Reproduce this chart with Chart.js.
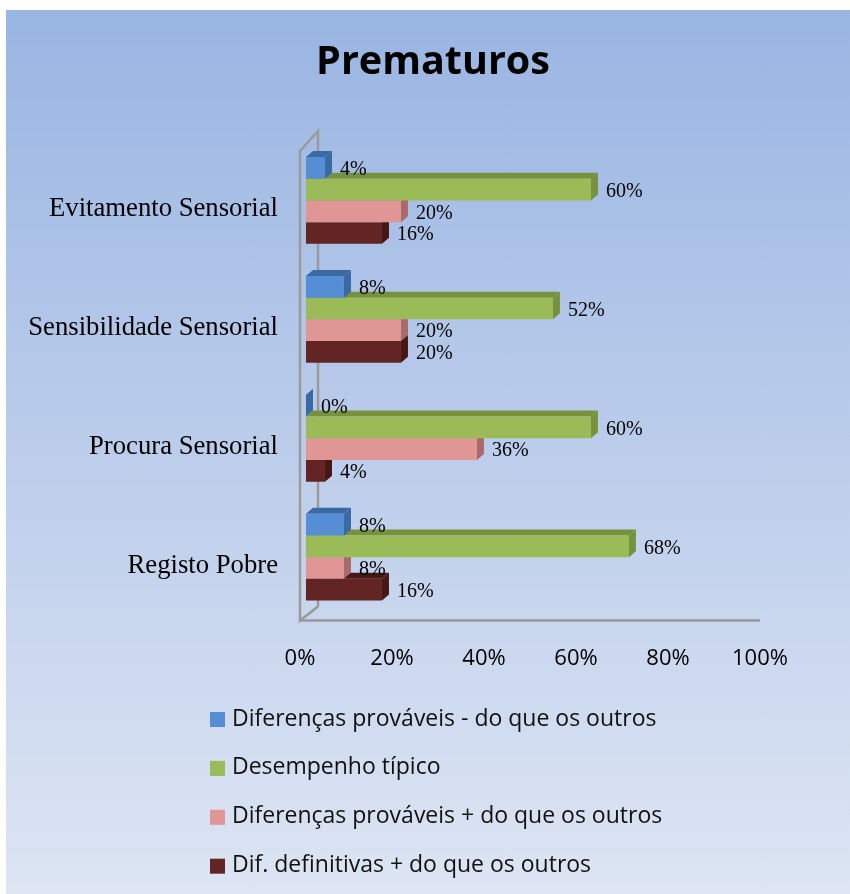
<!DOCTYPE html>
<html lang="pt">
<head>
  <meta charset="UTF-8">
  <title>Prematuros</title>
  <script src="https://cdn.jsdelivr.net/npm/chart.js"></script>
  <style>
    body { margin: 0; background: #fff; }
    #box { position: absolute; left: 6px; top: 10px; width: 844px; height: 884px;
           background: linear-gradient(to bottom, #99b5e2 0%, #bccdeb 50%, #dde5f3 100%); }
  </style>
</head>
<body>
<div id="box"><canvas id="chart" width="844" height="884"></canvas></div>

<script>
const categories = ['Evitamento Sensorial', 'Sensibilidade Sensorial', 'Procura Sensorial', 'Registo Pobre'];
const seriesNames = [
  'Diferenças prováveis - do que os outros',
  'Desempenho típico',
  'Diferenças prováveis + do que os outros',
  'Dif. definitivas + do que os outros'
];
const provMenos = [4, 8, 0, 8];
const tipico = [60, 52, 60, 68];
const provMais = [20, 20, 36, 8];
const definitivas = [16, 20, 4, 16];
const tickValues = [0, 20, 40, 60, 80, 100];

const fronts = ['#558ed5', '#9bbb59', '#df9695', '#632523'];
const sides = ['#3b6aa2', '#76923c', '#a96a6a', '#461715'];

const DX = 7, DY = 6;

// fake 3D faces behind each bar (drawn before the bar itself)
const bars3d = {
  id: 'bars3d',
  beforeDatasetDraw(chart, args) {
    const ctx = chart.ctx;
    ctx.save();
    ctx.fillStyle = sides[args.index];
    args.meta.data.forEach(el => {
      const x0 = el.base, x1 = el.x, t = el.y - el.height / 2, b = el.y + el.height / 2;
      ctx.beginPath();
      ctx.moveTo(x0, t); ctx.lineTo(x0 + DX, t - DY); ctx.lineTo(x1 + DX, t - DY); ctx.lineTo(x1, t);
      ctx.closePath(); ctx.fill();
      ctx.beginPath();
      ctx.moveTo(x1, t); ctx.lineTo(x1 + DX, t - DY); ctx.lineTo(x1 + DX, b - DY); ctx.lineTo(x1, b);
      ctx.closePath(); ctx.fill();
    });
    ctx.restore();
  }
};

// gray wall + floor lines of the 3D plot
const wall = {
  id: 'wall',
  beforeDatasetsDraw(chart) {
    const { ctx, chartArea: a } = chart;
    const x0 = a.left, x1 = a.left + 18, fl = a.bottom + 4;
    ctx.save();
    ctx.strokeStyle = '#9a9a9a';
    ctx.lineWidth = 2.5;
    ctx.beginPath();
    ctx.moveTo(x1, fl - 14); ctx.lineTo(x1, a.top - 10); ctx.lineTo(x0, a.top + 10);
    ctx.lineTo(x0, fl); ctx.lineTo(x1, fl - 14);
    ctx.moveTo(x0, fl); ctx.lineTo(a.right, fl);
    ctx.stroke();
    ctx.restore();
  }
};

const valueLabels = {
  id: 'valueLabels',
  afterDatasetsDraw(chart) {
    const ctx = chart.ctx;
    ctx.save();
    ctx.font = '20px "Liberation Serif"';
    ctx.fillStyle = '#000';
    ctx.textBaseline = 'middle';
    ctx.textAlign = 'left';
    chart.data.datasets.forEach((ds, i) => {
      chart.getDatasetMeta(i).data.forEach((el, j) => {
        ctx.fillText(ds.data[j] + '%', el.x + 15, el.y + 2);
      });
    });
    ctx.restore();
  }
};

const titleAndLegend = {
  id: 'titleAndLegend',
  afterDraw(chart) {
    const ctx = chart.ctx;
    ctx.save();
    ctx.fillStyle = '#000';
    ctx.font = 'bold 39.5px "Open Sans"';
    ctx.textAlign = 'center';
    ctx.textBaseline = 'middle';
    ctx.fillText('Prematuros', 427, 53);
    ctx.textAlign = 'left';
    ctx.font = '23px "Open Sans"';
    chart.data.datasets.forEach((ds, i) => {
      const y = 709 + i * 48.9;
      ctx.fillStyle = ds.backgroundColor;
      ctx.fillRect(204, y - 7, 15, 15);
      ctx.fillStyle = '#111';
      ctx.fillText(ds.label, 226, y);
    });
    ctx.restore();
  }
};

new Chart(document.getElementById('chart'), {
  type: 'bar',
  data: {
    labels: categories,
    datasets: [provMenos, tipico, provMais, definitivas].map((d, i) => ({
      label: seriesNames[i],
      data: d,
      backgroundColor: fronts[i],
      xAxisID: 'xb',
      categoryPercentage: 0.73,
      barPercentage: 1
    }))
  },
  options: {
    indexAxis: 'y',
    responsive: false,
    animation: false,
    layout: { padding: { left: 0, right: 90, top: 131, bottom: 193 } },
    scales: {
      x: {
        type: 'linear', min: 0, max: 100,
        afterBuildTicks: s => { s.ticks = tickValues.map(v => ({ value: v })); },
        grid: { display: false, drawTicks: false },
        border: { display: false },
        ticks: { padding: 29, color: '#000', font: { family: 'Open Sans', size: 22 }, callback: v => v + '%' }
      },
      xb: {
        type: 'linear', display: false, min: -1.26, max: 95.6
      },
      y: {
        afterFit: s => { s.width = 294; },
        grid: { display: false, drawTicks: false },
        border: { display: false },
        ticks: { padding: 22, labelOffset: 9, color: '#000', font: { family: 'Liberation Serif', size: 26.7 } }
      }
    },
    plugins: {
      legend: { display: false },
      tooltip: { enabled: false },
      title: { display: false }
    }
  },
  plugins: [wall, bars3d, valueLabels, titleAndLegend]
});
</script>
</body>
</html>
